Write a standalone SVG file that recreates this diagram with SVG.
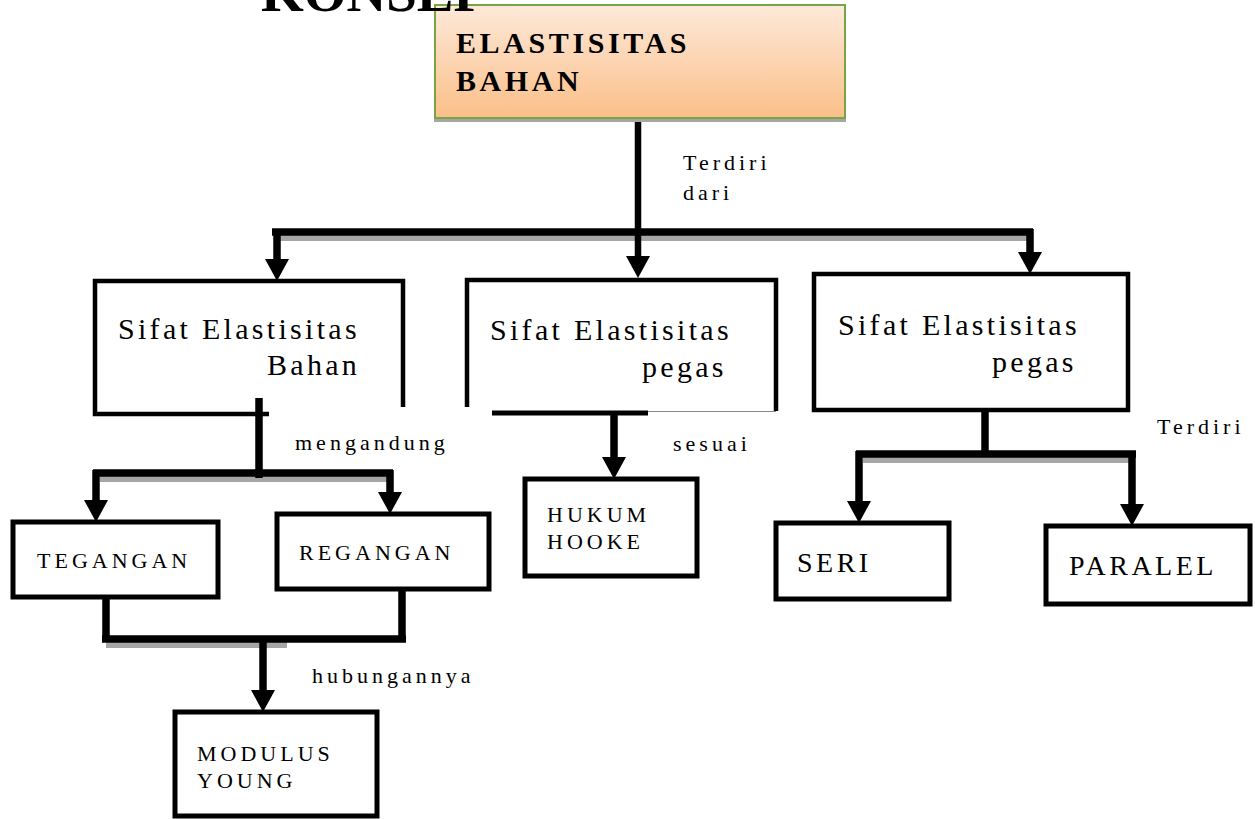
<svg xmlns="http://www.w3.org/2000/svg" width="1255" height="819" viewBox="0 0 1255 819">
<defs>
<linearGradient id="gTop" x1="0" y1="0" x2="0" y2="1">
<stop offset="0" stop-color="#fde9da"/>
<stop offset="1" stop-color="#fbbf88"/>
</linearGradient>
<marker id="ah" viewBox="0 0 22 24" refX="0" refY="12" markerWidth="22" markerHeight="24" markerUnits="userSpaceOnUse" orient="auto">
<path d="M0,0 L22,12 L0,24 Z" fill="#000"/>
</marker>
</defs>
<style>
text{font-family:"Liberation Serif","Times New Roman",serif;fill:#000}
.box{fill:#fff;stroke:#000;stroke-width:5}
.open{fill:none;stroke:#000;stroke-width:4.5}
.big{font-size:30px;letter-spacing:3.3px}
.cap{font-size:22px;letter-spacing:4px}
.cap2{font-size:28px;letter-spacing:3.5px}
.lbl{font-size:22px;letter-spacing:4px}
.ln{fill:none;stroke:#000;stroke-width:7.5}
.sh{fill:none;stroke:#a6a6a6;stroke-width:6}
.top{font-size:30px;font-weight:bold;letter-spacing:3.6px}
</style>
<rect width="1255" height="819" fill="#fff"/>

<g id="connectors">
<path class="sh" d="M280,238 H1030"/>
<path class="sh" d="M100,479 H390"/>
<path class="sh" d="M863,460 H1132"/>
<path class="sh" d="M106,645 H287"/>
<path class="ln" d="M638,118 V256" marker-end="url(#ah)" style="stroke-width:6.5"/>
<path class="ln" d="M272,232 H1033"/>
<path class="ln" d="M277,229 V259" marker-end="url(#ah)"/>
<path class="ln" d="M1030,229 V252" marker-end="url(#ah)"/>
<path class="ln" d="M259,398 V478"/>
<path class="ln" d="M93,473 H393"/>
<path class="ln" d="M96,470 V500" marker-end="url(#ah)"/>
<path class="ln" d="M390,470 V492" marker-end="url(#ah)"/>
<path class="ln" d="M614,413 V457" marker-end="url(#ah)"/>
<path class="ln" d="M985,410 V457"/>
<path class="ln" d="M856,454 H1136"/>
<path class="ln" d="M859,451 V501" marker-end="url(#ah)"/>
<path class="ln" d="M1132,451 V504" marker-end="url(#ah)"/>
<path class="ln" d="M106,592 V642"/>
<path class="ln" d="M402,589 V642"/>
<path class="ln" d="M102,639 H406"/>
<path class="ln" d="M263,639 V690" marker-end="url(#ah)"/>
</g>

<g id="n-elastisitas">
<rect x="434" y="9" width="412" height="113" fill="#a6a6a6"/>
<rect x="435" y="5" width="410" height="113" fill="url(#gTop)" stroke="#77a445" stroke-width="2"/>
<text class="top" x="456" y="53">ELASTISITAS</text>
<text class="top" x="456" y="91">BAHAN</text>
</g>

<g id="n-sifat-bahan">
<path class="open" d="M403,407 V281 H95 V414 H269"/>
<text class="big" x="118" y="339">Sifat Elastisitas</text>
<text class="big" x="267" y="375">Bahan</text>
</g>

<g id="n-sifat-pegas-1">
<path class="open" d="M467,407 V280 H776 V411"/>
<path d="M492,413 H648" stroke="#000" stroke-width="5"/>
<path d="M648,411.5 H776" stroke="#888" stroke-width="1"/>
<text class="big" x="490" y="340">Sifat Elastisitas</text>
<text class="big" x="642" y="377">pegas</text>
</g>

<g id="n-sifat-pegas-2">
<rect class="open" x="814" y="274" width="314" height="136"/>
<text class="big" x="838" y="335">Sifat Elastisitas</text>
<text class="big" x="992" y="372">pegas</text>
</g>

<g id="n-tegangan">
<rect class="box" x="13" y="522" width="205" height="75"/>
<text class="cap" x="37" y="568">TEGANGAN</text>
</g>

<g id="n-regangan">
<rect class="box" x="277" y="514" width="212" height="75"/>
<text class="cap" x="299" y="560">REGANGAN</text>
</g>

<g id="n-hukum">
<rect class="box" x="525" y="479" width="172" height="97"/>
<text class="cap" x="547" y="522">HUKUM</text>
<text class="cap" x="547" y="549">HOOKE</text>
</g>

<g id="n-seri">
<rect class="box" x="776" y="523" width="173" height="76"/>
<text class="cap2" x="797" y="572">SERI</text>
</g>

<g id="n-paralel">
<rect class="box" x="1046" y="526" width="204" height="78"/>
<text class="cap2" x="1069" y="575">PARALEL</text>
</g>

<g id="n-modulus">
<rect class="box" x="175" y="712" width="202" height="104"/>
<text class="cap" x="197" y="761">MODULUS</text>
<text class="cap" x="197" y="788">YOUNG</text>
</g>

<g id="labels">
<text class="lbl" x="683" y="170">Terdiri</text>
<text class="lbl" x="683" y="200">dari</text>
<text class="lbl" x="295" y="450">mengandung</text>
<text class="lbl" x="673" y="451">sesuai</text>
<text class="lbl" x="1157" y="434">Terdiri</text>
<text class="lbl" x="312" y="683">hubungannya</text>
</g>

<text x="261" y="11" font-size="55" font-weight="bold">KONSEP</text>
</svg>
